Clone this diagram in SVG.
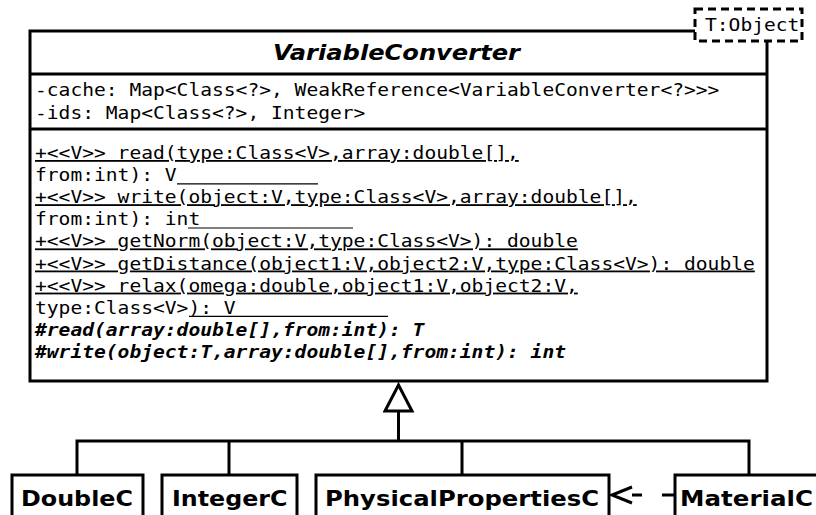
<svg xmlns="http://www.w3.org/2000/svg" width="816" height="515" viewBox="0 0 816 515">
<style>
  .box { fill: #fff; stroke: #000; stroke-width: 3; }
  .sep { stroke: #000; stroke-width: 3; }
  .mono { font-family: "DejaVu Sans Mono", monospace; font-size: 18px; fill: #000; }
  .ul { text-decoration: underline; }
  .abs { font-weight: bold; font-style: italic; }
  .title { font-family: "DejaVu Sans", sans-serif; font-size: 21px; font-weight: bold; font-style: italic; fill: #000; }
  .cls { font-family: "DejaVu Sans", sans-serif; font-size: 22px; font-weight: bold; fill: #000; }
  .uline { stroke: #000; stroke-width: 1.2; }
  .conn { fill: none; stroke: #000; stroke-width: 3; }
</style>
<defs>
  <marker id="gen" markerUnits="userSpaceOnUse" viewBox="-2 -16 32 32" markerWidth="32" markerHeight="32" refX="0" refY="0" orient="auto">
    <path d="M0,-13.5 L26,0 L0,13.5 Z" fill="#fff" stroke="#000" stroke-width="3"/>
  </marker>
  <marker id="dep" markerUnits="userSpaceOnUse" viewBox="-2 -11 26 22" markerWidth="26" markerHeight="22" refX="0" refY="0" orient="auto">
    <path d="M0,-8 L20,0 L0,8" fill="none" stroke="#000" stroke-width="3"/>
  </marker>
</defs>

<g id="VariableConverter">
  <rect class="box" x="30" y="31" width="737" height="350"/>
  <line class="sep" x1="30" y1="74" x2="767" y2="74"/>
  <line class="sep" x1="30" y1="129" x2="767" y2="129"/>
  <text class="title" x="273" y="60" textLength="247" lengthAdjust="spacingAndGlyphs">VariableConverter</text>
  <text class="mono" x="35" y="95.5" textLength="684.4" lengthAdjust="spacingAndGlyphs">-cache: Map&lt;Class&lt;?&gt;, WeakReference&lt;VariableConverter&lt;?&gt;&gt;&gt;</text>
  <text class="mono" x="35" y="118.5" textLength="330.4" lengthAdjust="spacingAndGlyphs">-ids: Map&lt;Class&lt;?&gt;, Integer&gt;</text>
  <text class="mono ul" x="35" y="159" textLength="483.8" lengthAdjust="spacingAndGlyphs">+&lt;&lt;V&gt;&gt; read(type:Class&lt;V&gt;,array:double[],</text>
  <text class="mono" x="35" y="181.1" textLength="141.6" lengthAdjust="spacingAndGlyphs">from:int): V</text>
  <line class="uline" x1="177" y1="183.8" x2="318" y2="183.8"/>
  <text class="mono ul" x="35" y="203.2" textLength="601.8" lengthAdjust="spacingAndGlyphs">+&lt;&lt;V&gt;&gt; write(object:V,type:Class&lt;V&gt;,array:double[],</text>
  <text class="mono" x="35" y="225.3" textLength="165.2" lengthAdjust="spacingAndGlyphs">from:int): int</text>
  <line class="uline" x1="188" y1="228" x2="353" y2="228"/>
  <text class="mono ul" x="35" y="247.4" textLength="542.8" lengthAdjust="spacingAndGlyphs">+&lt;&lt;V&gt;&gt; getNorm(object:V,type:Class&lt;V&gt;): double</text>
  <text class="mono ul" x="35" y="269.5" textLength="719.8" lengthAdjust="spacingAndGlyphs">+&lt;&lt;V&gt;&gt; getDistance(object1:V,object2:V,type:Class&lt;V&gt;): double</text>
  <text class="mono ul" x="35" y="291.6" textLength="542.8" lengthAdjust="spacingAndGlyphs">+&lt;&lt;V&gt;&gt; relax(omega:double,object1:V,object2:V,</text>
  <text class="mono" x="35" y="313.7" textLength="200.6" lengthAdjust="spacingAndGlyphs">type:Class&lt;V&gt;): V</text>
  <line class="uline" x1="189" y1="316.4" x2="388" y2="316.4"/>
  <text class="mono abs" x="35" y="335.8" textLength="389.4" lengthAdjust="spacingAndGlyphs">#read(array:double[],from:int): T</text>
  <text class="mono abs" x="35" y="357.9" textLength="531" lengthAdjust="spacingAndGlyphs">#write(object:T,array:double[],from:int): int</text>
  <g id="template-parameter">
    <rect x="695" y="9" width="107" height="32" fill="#fff" stroke="#000" stroke-width="3" stroke-dasharray="8,5"/>
    <text class="mono" x="705" y="31" textLength="94.4" lengthAdjust="spacingAndGlyphs">T:Object</text>
  </g>
</g>

<g id="connectors">
  <path class="conn" d="M77,475 V441 H749 V475 M229,441 V475 M462,441 V475"/>
  <path class="conn" d="M398.5,441 V411" marker-end="url(#gen)"/>
  <path class="conn" d="M675,495 H632" stroke-dasharray="13,20" marker-end="url(#dep)"/>
</g>

<g id="DoubleC">
  <rect class="box" x="12" y="475" width="131" height="60"/>
  <text class="cls" x="21" y="506" textLength="112" lengthAdjust="spacingAndGlyphs">DoubleC</text>
</g>
<g id="IntegerC">
  <rect class="box" x="162" y="475" width="135" height="60"/>
  <text class="cls" x="172" y="506" textLength="115.5" lengthAdjust="spacingAndGlyphs">IntegerC</text>
</g>
<g id="PhysicalPropertiesC">
  <rect class="box" x="316" y="475" width="293" height="60"/>
  <text class="cls" x="325" y="506" textLength="274" lengthAdjust="spacingAndGlyphs">PhysicalPropertiesC</text>
</g>
<g id="MaterialC">
  <rect class="box" x="675" y="475" width="160" height="60"/>
  <text class="cls" x="680" y="506" textLength="133" lengthAdjust="spacingAndGlyphs">MaterialC</text>
</g>
</svg>
